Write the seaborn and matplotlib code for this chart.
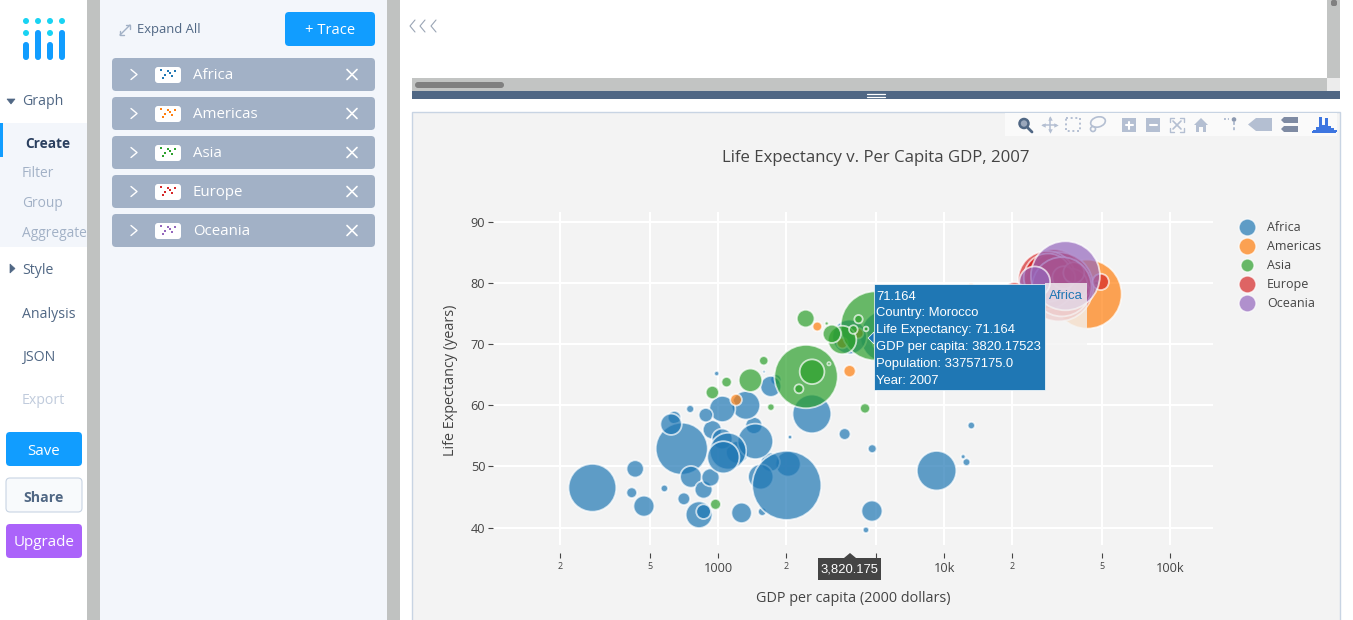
"""
plot.py
Plotly Chart Studio screen with the gapminder 2007 bubble chart.
"""

import matplotlib
matplotlib.use("Agg")
import matplotlib.pyplot as plt
import pandas as pd
import seaborn as sns
from matplotlib.lines import Line2D
from matplotlib.patches import Circle, Ellipse, FancyBboxPatch, Polygon, Rectangle

# ── Data ──────────────────────────────────────────────────────────────────────
continents = ["Africa", "Americas", "Asia", "Europe", "Oceania"]
colors = ["#1f77b4", "#ff7f0e", "#2ca02c", "#d62728", "#9467bd"]

africa_gdp = [6223, 4797, 1441, 12570, 1217, 430, 2042, 706, 1704, 986, 278, 3633, 1545,
              2082, 5581, 12154, 641, 691, 13206, 753, 1328, 943, 579, 1463, 1569, 415,
              12057, 1045, 759, 1043, 1803, 10957, 3820, 824, 4811, 620, 2014, 7670, 863,
              1598, 1712, 863, 926, 9270, 2602, 4513, 1107, 883, 7093, 1056, 1271, 470]
africa_life = [72.3, 42.7, 56.7, 50.7, 52.3, 49.6, 50.4, 44.7, 50.7, 65.2, 46.5, 55.3, 48.3,
               54.8, 71.3, 51.6, 58.0, 52.9, 56.7, 59.4, 60.0, 56.0, 46.4, 54.1, 42.6, 45.7,
               74.0, 59.4, 48.3, 54.5, 64.2, 72.8, 71.2, 42.1, 52.9, 56.9, 46.9, 76.4, 46.2,
               65.5, 63.1, 42.6, 48.2, 49.3, 58.6, 39.6, 52.5, 58.4, 73.9, 51.5, 42.4, 43.5]
africa_pop = [33.3, 12.4, 8.1, 1.6, 14.3, 8.4, 17.7, 4.4, 10.2, 0.7, 64.6, 3.8, 18.0,
              0.5, 80.3, 0.6, 4.9, 76.5, 1.5, 1.7, 22.9, 10.0, 1.5, 35.6, 2.0, 3.2,
              6.0, 19.2, 13.3, 12.0, 3.3, 1.3, 33.8, 20.0, 2.1, 12.9, 135.0, 0.8, 8.9,
              0.2, 12.3, 6.1, 9.1, 44.0, 42.3, 1.1, 38.1, 5.7, 10.3, 29.2, 11.7, 12.3]

americas_gdp = [12779, 3822, 9066, 36319, 13172, 7007, 9645, 8948, 6025, 6873, 5728, 5186,
                1202, 3548, 7321, 11978, 2749, 9809, 4173, 7409, 19329, 18009, 42952, 10611, 11416]
americas_life = [75.3, 65.6, 72.4, 80.7, 78.6, 72.9, 78.8, 78.3, 72.2, 75.0, 71.9, 70.3,
                 60.9, 70.2, 72.6, 76.2, 72.9, 75.5, 71.8, 71.4, 78.7, 69.8, 78.2, 76.4, 73.7]
americas_pop = [40.3, 9.1, 190.0, 33.4, 16.3, 44.2, 4.1, 11.4, 9.3, 13.8, 6.9, 12.6,
                8.5, 7.5, 2.8, 108.7, 5.7, 3.2, 6.7, 28.7, 3.9, 1.1, 301.1, 3.4, 26.1]

asia_gdp = [975, 29796, 1391, 1714, 4959, 39725, 2452, 3541, 11606, 4471, 25523, 31656,
            4519, 10461, 12452, 3096, 944, 1091, 1593, 22316, 2606, 3190, 21655,
            47143, 23348, 3970, 4185, 28718, 7458, 2442, 3025, 2281]
asia_life = [43.8, 75.6, 64.1, 59.7, 73.0, 82.2, 64.7, 70.7, 71.0, 59.5, 80.7, 82.6,
             72.5, 72.0, 74.2, 66.8, 62.1, 63.8, 67.3, 75.6, 65.5, 71.7, 72.8,
             80.0, 78.6, 72.4, 74.1, 78.4, 70.6, 74.2, 73.4, 62.7]
asia_pop = [31.9, 0.7, 150.4, 14.1, 1318.7, 7.0, 1110.4, 223.5, 69.5, 27.5, 6.4, 127.5,
            6.1, 3.9, 24.8, 2.9, 47.8, 28.9, 23.3, 3.2, 169.3, 91.1, 27.6,
            4.6, 49.0, 20.4, 19.3, 23.2, 65.1, 85.3, 4.0, 22.2]

europe_gdp = [5937, 36126, 33693, 7446, 10681, 14619, 22833, 35278, 33207, 30470, 32170,
              27538, 18009, 36181, 40675, 28570, 9254, 36798, 49357, 15390, 20510, 10808,
              9787, 18678, 25768, 28821, 33860, 37506, 8458, 33203]
europe_life = [76.4, 79.8, 79.4, 74.9, 73.0, 75.7, 76.5, 78.3, 79.3, 80.7, 79.4,
               79.5, 73.3, 81.8, 78.9, 80.5, 74.5, 79.8, 80.2, 75.6, 78.1, 72.5,
               74.0, 74.7, 77.9, 80.9, 80.9, 81.7, 71.8, 79.4]
europe_pop = [3.6, 8.2, 10.4, 4.6, 7.3, 4.5, 10.2, 5.5, 5.2, 61.1, 82.4,
              10.7, 10.0, 0.3, 4.1, 58.1, 0.7, 16.6, 4.6, 38.5, 10.6, 22.3,
              10.2, 5.4, 2.0, 40.4, 9.0, 7.6, 71.2, 60.8]

oceania_gdp = [34435, 25185]
oceania_life = [81.2, 80.2]
oceania_pop = [20.4, 4.1]

x_ticks = [200, 500, 1000, 2000, 5000, 10000, 20000, 50000, 100000]
x_tick_labels = ["2", "5", "1000", "2", "", "10k", "2", "5", "100k"]  # 5000 sits under the hover label
y_ticks = [40, 50, 60, 70, 80, 90]

tooltip_lines = ["71.164", "Country: Morocco", "Life Expectancy: 71.164",
                 "GDP per capita: 3820.17523", "Population: 33757175.0", "Year: 2007"]
nav_items = [("Filter", 172), ("Group", 202), ("Aggregate", 232)]
nav_main = [("Style", 269), ("Analysis", 313), ("JSON", 356)]

W, H = 1353, 620
BLUE = "#119dff"
SLATE = "#506784"
TEXT = "#444444"
MUTED = "#b4bfd2"
PANEL = "#f3f3f3"
MAX_S = 2468  # largest bubble of each trace, about 69 px across

sns.set_style("white")
plt.rcParams["font.family"] = ["Open Sans", "DejaVu Sans"]

frames = []
for name, gdp, life, pop in zip(continents,
                                [africa_gdp, americas_gdp, asia_gdp, europe_gdp, oceania_gdp],
                                [africa_life, americas_life, asia_life, europe_life, oceania_life],
                                [africa_pop, americas_pop, asia_pop, europe_pop, oceania_pop]):
    frames.append(pd.DataFrame({"continent": name, "gdp": gdp, "life": life, "pop": pop}))
df = pd.concat(frames, ignore_index=True)


def rbox(ax, x0, y0, x1, y1, color, r=4, ec="none", lw=0):
    ax.add_patch(FancyBboxPatch((x0, y0), x1 - x0, y1 - y0, boxstyle=f"round,pad=0,rounding_size={r}",
                                fc=color, ec=ec, lw=lw))


def rect(ax, x0, y0, x1, y1, color, **kw):
    ax.add_patch(Rectangle((x0, y0), x1 - x0, y1 - y0, fc=color, ec="none", **kw))


def line(ax, xs, ys, color, lw=1.0, **kw):
    ax.plot(xs, ys, color=color, lw=lw, solid_capstyle="round", **kw)


def label(ax, x, y, s, size=10, color=TEXT, ha="left", **kw):
    # Open Sans sits a little high when centred on its box
    ax.text(x, y + 1.5, s, fontsize=size, color=color, ha=ha, va="center", **kw)


fig = plt.figure(figsize=(W / 100, H / 100), dpi=100, facecolor="white")

# ── Screen behind the chart ───────────────────────────────────────────────────
bg = fig.add_axes([0, 0, 1, 1], zorder=0)
bg.set_xlim(0, W)
bg.set_ylim(H, 0)
bg.axis("off")

rect(bg, 0, 123, 87, 247, "#f3f6fb")
rect(bg, 0, 123, 3, 157, BLUE)
rect(bg, 87, 0, 100, H, "#c0c2c1")
rect(bg, 100, 0, 387, H, "#f3f6fb")
rect(bg, 387, 0, 400, H, "#c0c2c1")

# logo
for x in [26, 38, 50, 62]:
    bg.add_patch(Circle((x, 21), 3, fc="#19d3f3", ec="none"))
for x in [26, 50]:
    bg.add_patch(Circle((x, 33), 3, fc="#19d3f3", ec="none"))
for x, top in zip([26, 38, 50, 62], [42, 30, 42, 30]):
    rbox(bg, x - 3, top, x + 3, 60, BLUE, r=3)

# left nav
bg.add_patch(Polygon([(7, 99), (15, 99), (11, 104)], fc=SLATE, ec=SLATE, lw=0.5))
label(bg, 22, 100, "Graph", 10.2, SLATE)
label(bg, 25, 142, "Create", 9.8, "#2a3f5f", fontweight="bold")
for name, y in nav_items:
    label(bg, 22, y, name, 9.9, "#a2b1c6")
bg.add_patch(Polygon([(10, 264), (10, 273), (15, 268.5)], fc=SLATE, ec=SLATE, lw=0.5))
for name, y in nav_main:
    label(bg, 22, y, name, 10.2, SLATE)
label(bg, 22, 399, "Export", 10.2, "#c0cbdc")
rbox(bg, 6, 432, 82, 466, BLUE)
label(bg, 44, 450, "Save", 10.8, "white", ha="center")
rbox(bg, 6, 478, 82, 512, "#f8fafc", ec="#c8d4e3", lw=0.8)
label(bg, 44, 496, "Share", 10.2, SLATE, ha="center", fontweight="bold")
rbox(bg, 6, 524, 82, 558, "#ab63fa")
label(bg, 44, 541, "Upgrade", 10.9, "white", ha="center")

# trace panel
line(bg, [120, 130], [35, 25], "#a2b1c6", 1)
line(bg, [120, 120, 124], [31, 35, 35], "#a2b1c6", 1)
line(bg, [126, 130, 130], [25, 25, 29], "#a2b1c6", 1)
label(bg, 137, 28.5, "Expand All", 9.4, SLATE)
rbox(bg, 285, 12, 375, 46, BLUE)
label(bg, 330, 29, "+ Trace", 10.6, "white", ha="center")
dots_x = [161, 168, 175, 170, 165, 172, 163]
dots_y = [70, 71, 71, 73, 75, 76, 78]
for i, (name, col) in enumerate(zip(continents, colors)):
    top = 58 + 39 * i
    mid = top + 16.5
    rbox(bg, 112, top, 375, top + 33, "#a2b1c6")
    line(bg, [131, 137, 131], [mid - 5, mid, mid + 5], "white", 1)
    rbox(bg, 155, top + 9, 181, top + 25, "white", r=3)
    bg.scatter(dots_x, [d + 39 * i for d in dots_y], s=4, color=col, marker="s", lw=0, zorder=3)
    label(bg, 193, mid - 0.5, name, 10.8, "white")
    line(bg, [347, 357], [mid - 5, mid + 5], "white", 1.2)
    line(bg, [347, 357], [mid + 5, mid - 5], "white", 1.2)

# top pane, scrollbars and divider
for x in [410, 420, 431]:
    line(bg, [x + 5, x, x + 5], [20, 26, 32], "#9aa5b5", 0.8)
rect(bg, 412, 78, 1327, 91, "#c2c4c3")
rbox(bg, 415, 82, 504, 88, "#808080", r=3)
rect(bg, 1327, 0, 1340, 78, "#c2c4c3")
rbox(bg, 1331, 0, 1337, 6, "#808080", r=2)
rect(bg, 1327, 78, 1340, 91, "#ececec")
rect(bg, 412, 91, 1340, 99, SLATE)
line(bg, [867, 885], [94, 94], "white", 0.9)
line(bg, [867, 885], [97, 97], "white", 0.9)

# chart panel
bg.add_patch(Rectangle((412, 111.5), 927.5, 520, fc=PANEL, ec="#c8d4e3", lw=1))
rect(bg, 1005, 113, 1337, 136, "#fafafa")

# modebar icons
bg.add_patch(Circle((1024, 123.5), 4.5, fc="#9aa7bb", ec=SLATE, lw=1.8))
line(bg, [1028, 1032], [128, 132], SLATE, 2)
line(bg, [1043, 1056], [124.5, 124.5], MUTED, 1.1)
line(bg, [1049.5, 1049.5], [118, 131], MUTED, 1.1)
for px, py, m in [(1043, 124.5, "<"), (1056, 124.5, ">"), (1049.5, 118, "^"), (1049.5, 131, "v")]:
    bg.plot([px], [py], m, ms=3.2, color=MUTED, mew=0)
bg.add_patch(Rectangle((1066, 118), 14, 13, fc="none", ec=MUTED, lw=1.4, ls=(0, (1, 1.4))))
bg.add_patch(Ellipse((1098, 122), 15, 10, angle=-15, fc="none", ec=MUTED, lw=1.2))
bg.add_patch(Circle((1093, 129), 2.5, fc="none", ec=MUTED, lw=1.2))
for x0, vertical in [(1122, True), (1146, False)]:
    rect(bg, x0, 118, x0 + 14, 132, MUTED)
    line(bg, [x0 + 3.5, x0 + 10.5], [125, 125], "white", 1.5)
    if vertical:
        line(bg, [x0 + 7, x0 + 7], [121.5, 128.5], "white", 1.5)
for cx, cy, dx, dy in [(1170, 118, 1, 1), (1184, 118, -1, 1), (1170, 132, 1, -1), (1184, 132, -1, -1)]:
    line(bg, [cx + 4 * dx, cx, cx], [cy, cy, cy + 4 * dy], MUTED, 1)
line(bg, [1173, 1181], [121, 129], MUTED, 1.2)
line(bg, [1173, 1181], [129, 121], MUTED, 1.2)
bg.add_patch(Polygon([(1194, 125), (1201, 118), (1208, 125), (1206, 125), (1206, 132),
                      (1203, 132), (1203, 127), (1199, 127), (1199, 132), (1196, 132), (1196, 125)],
                     fc=MUTED, ec="none"))
line(bg, [1224, 1229], [119, 119], MUTED, 1.4, ls=(0, (1, 1)))
line(bg, [1234, 1234], [122, 132], MUTED, 1.4, ls=(0, (1.5, 1.2)))
bg.add_patch(Circle((1234, 119.5), 2.3, fc="#8c99b0", ec="none"))
bg.add_patch(Polygon([(1248, 124.5), (1256, 118), (1272, 118), (1272, 131), (1256, 131)], fc=MUTED, ec="none"))
bg.add_patch(Polygon([(1281, 120), (1284, 117), (1298, 117), (1298, 123), (1284, 123)], fc="#7f8ba3", ec="none"))
bg.add_patch(Polygon([(1281, 129), (1284, 126), (1298, 126), (1298, 132), (1284, 132)], fc="#7f8ba3", ec="none"))
for x, top in zip([1313, 1316, 1319, 1322, 1325, 1328, 1331, 1334], [130, 127, 117, 125, 118, 126, 128, 130]):
    rect(bg, x, top, x + 2.7, 132, "#3d75e0")
rect(bg, 1312, 131, 1336, 132.5, "#3d75e0")

# ── Bubble chart ──────────────────────────────────────────────────────────────
ax = fig.add_axes([493 / W, 1 - 545 / H, 720 / W, 333 / H], zorder=2)
ax.patch.set_alpha(0)

for name, col in zip(continents, colors):
    part = df[df["continent"] == name]
    sns.scatterplot(data=part, x="gdp", y="life", size="pop", sizes=(0, MAX_S),
                    size_norm=(0, part["pop"].max()), color=col, alpha=0.7,
                    edgecolor="white", linewidth=1.3, legend=False, clip_on=False, ax=ax, zorder=3)

ax.set_xscale("log")
ax.set_xlim(101, 154900)
ax.set_ylim(37.14, 91.64)
ax.set_xticks(x_ticks, x_tick_labels)
ax.minorticks_off()
ax.set_yticks(y_ticks)
ax.grid(True, color="white", lw=1.5)
ax.set_axisbelow(True)
for s in ax.spines.values():
    s.set_visible(False)
ax.spines["bottom"].set_position(("outward", 5.8))
ax.tick_params(axis="x", length=3.6, width=0.8, color=TEXT, labelcolor=TEXT, pad=3, bottom=True)
ax.tick_params(axis="y", length=3.6, width=0.8, color=TEXT, labelcolor=TEXT, pad=2, labelsize=9.2, left=True)
for tick in ax.get_xticklabels():
    small = tick.get_text() in ("2", "5")
    tick.set_fontsize(6.5 if small else 9.2)

ax.set_xlabel("GDP per capita (2000 dollars)", fontsize=10.35, color=TEXT, va="center")
ax.set_ylabel("Life Expectancy (years)", fontsize=10.35, color=TEXT, va="center")
ax.xaxis.set_label_coords(0.5, -54 / 333)
ax.yaxis.set_label_coords(-42 / 720, 0.495)
ax.set_title("Life Expectancy v. Per Capita GDP, 2007", fontsize=12.05, color=TEXT,
             x=383 / 720, y=1 + 46 / 333, va="center")

handles = [Line2D([], [], marker="o", ls="", ms=9.4 if n == "Asia" else 12.2, mfc=c, mec="white",
                  mew=1.0, alpha=0.7, label=n) for n, c in zip(continents, colors)]
leg = ax.legend(handles=handles, loc="upper left", bbox_to_anchor=(1238 / W, 1 - 221 / H),
                bbox_transform=fig.transFigure, frameon=False, fontsize=9, labelspacing=0.484,
                handletextpad=0.91, borderpad=0, borderaxespad=0, handlelength=1.4)
for t in leg.get_texts():
    t.set_color(TEXT)

# ── Hover labels ──────────────────────────────────────────────────────────────
fg = fig.add_axes([0, 0, 1, 1], zorder=5)
fg.set_xlim(0, W)
fg.set_ylim(H, 0)
fg.axis("off")

hover_font = "Liberation Sans"
rect(fg, 1045, 283, 1087, 390, PANEL, alpha=0.8)
label(fg, 1065.5, 294.5, "Africa", 9.5, "#1f77b4", ha="center", family=hover_font)
fg.add_patch(Polygon([(868, 338), (874, 332), (874, 344)], fc="#1f77b4", ec="white", lw=0.5))
fg.add_patch(Rectangle((874, 284), 171, 106, fc="#1f77b4", ec="white", lw=0.5))
for i, txt in enumerate(tooltip_lines):
    label(fg, 876, 295 + i * 16.8, txt, 9.4, "white", family=hover_font)
fg.add_patch(Polygon([(844, 558), (850, 553), (856, 558)], fc=TEXT, ec="none"))
rect(fg, 818, 558, 881, 580, TEXT)
label(fg, 849.5, 568, "3,820.175", 9.4, "white", ha="center", family=hover_font)

fig.savefig("out.png", dpi=100)
plt.close(fig)
